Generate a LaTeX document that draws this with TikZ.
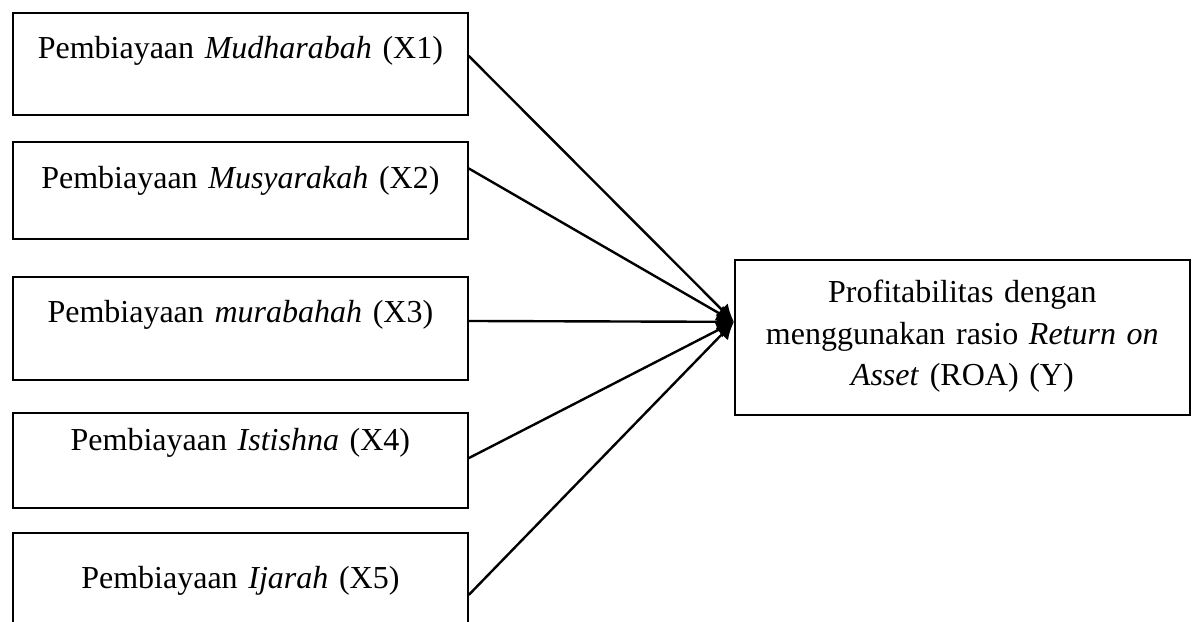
\documentclass[tikz,border=0pt]{standalone}
\usepackage{fontspec}
\setmainfont{Liberation Serif}
\usetikzlibrary{arrows.meta, positioning}

\begin{document}
\begin{tikzpicture}[
        font=\fontsize{12}{15.6}\selectfont, node distance=10pt,
        box/.style={draw, line width=0.7pt, text width=170.6pt, inner xsep=0pt, inner ysep=0pt, align=center, text height=17.25pt},
        arr/.style={-{Latex[length=6.5pt, width=6.5pt]}, line width=0.9pt}
    ]
        \clip (0,0) rectangle (447.4pt,-233.25pt);
        \node[box, text depth=21pt, anchor=north west] (x1) at (4.5pt,-4.5pt) {Pembiayaan \textit{Mudharabah} (X1)};
        \node[box, text depth=19.1pt, below=9.5pt of x1] (x2) {Pembiayaan \textit{Musyarakah} (X2)};
        \node[box, text depth=21.4pt, below=13.5pt of x2] (x3) {Pembiayaan \textit{murabahah} (X3)};
        \node[box, text height=14pt, text depth=21.6pt, below=11.8pt of x3] (x4) {Pembiayaan \textit{Istishna} (X4)};
        \node[box, text height=21pt, text depth=22.6pt, below=8.5pt of x4] (x5) {Pembiayaan \textit{Ijarah} (X5)};
        \node[box, text height=16.1pt, text depth=42pt, anchor=north west] (y) at (275.25pt,-97.1pt)
            {Profitabilitas dengan\\ menggunakan rasio \textit{Return on}\\ \textit{Asset} (ROA) (Y)};

        \coordinate (tip) at ([yshift=5.8pt]y.west);
        \draw[arr] ([yshift=3pt]x1.east) -- (tip);
        \draw[arr] ([yshift=8.3pt]x2.east) -- (tip);
        \draw[arr] ([yshift=2.8pt]x3.east) -- (tip);
        \draw[arr] ([yshift=1pt]x4.east) -- (tip);
        \draw[arr] ([yshift=-1.5pt]x5.east) -- (tip);
    \end{tikzpicture}
\end{document}
